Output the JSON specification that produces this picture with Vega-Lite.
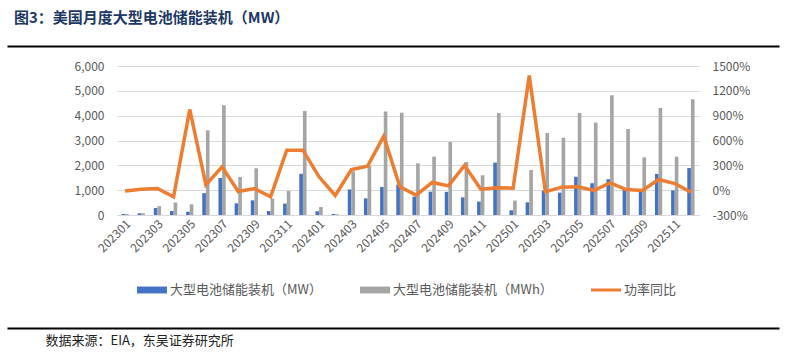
{
  "$schema": "https://vega.github.io/schema/vega-lite/v6.json",
  "width": 582,
  "height": 149,
  "padding": {"left": 117, "top": 66, "right": 97, "bottom": 138},
  "autosize": {"type": "none"},
  "background": "white",
  "config": {"view": {"stroke": null}, "font": "Noto Sans CJK SC"},
  "title": {"text": "图3：美国月度大型电池储能装机（MW）", "anchor": "start", "frame": "group", "fontSize": 15, "fontWeight": "bold", "color": "#203864", "font": "Noto Sans CJK SC", "offset": 20, "dx": -103},
  "datasets": {
    "frame": [{"u": 0.5}],
    "d": [
      {"m": "202301", "s": "大型电池储能装机（MW）", "v": 40}, {"m": "202301", "s": "大型电池储能装机（MWh）", "v": 40}, {"m": "202301", "s": "功率同比", "v": -10},
      {"m": "202302", "s": "大型电池储能装机（MW）", "v": 70}, {"m": "202302", "s": "大型电池储能装机（MWh）", "v": 70}, {"m": "202302", "s": "功率同比", "v": 12},
      {"m": "202303", "s": "大型电池储能装机（MW）", "v": 280}, {"m": "202303", "s": "大型电池储能装机（MWh）", "v": 355}, {"m": "202303", "s": "功率同比", "v": 20},
      {"m": "202304", "s": "大型电池储能装机（MW）", "v": 160}, {"m": "202304", "s": "大型电池储能装机（MWh）", "v": 505}, {"m": "202304", "s": "功率同比", "v": -80},
      {"m": "202305", "s": "大型电池储能装机（MW）", "v": 132}, {"m": "202305", "s": "大型电池储能装机（MWh）", "v": 430}, {"m": "202305", "s": "功率同比", "v": 975},
      {"m": "202306", "s": "大型电池储能装机（MW）", "v": 880}, {"m": "202306", "s": "大型电池储能装机（MWh）", "v": 3410}, {"m": "202306", "s": "功率同比", "v": 65},
      {"m": "202307", "s": "大型电池储能装机（MW）", "v": 1490}, {"m": "202307", "s": "大型电池储能装机（MWh）", "v": 4420}, {"m": "202307", "s": "功率同比", "v": 282},
      {"m": "202308", "s": "大型电池储能装机（MW）", "v": 470}, {"m": "202308", "s": "大型电池储能装机（MWh）", "v": 1530}, {"m": "202308", "s": "功率同比", "v": -16},
      {"m": "202309", "s": "大型电池储能装机（MW）", "v": 590}, {"m": "202309", "s": "大型电池储能装机（MWh）", "v": 1880}, {"m": "202309", "s": "功率同比", "v": 20},
      {"m": "202310", "s": "大型电池储能装机（MW）", "v": 160}, {"m": "202310", "s": "大型电池储能装机（MWh）", "v": 660}, {"m": "202310", "s": "功率同比", "v": -80},
      {"m": "202311", "s": "大型电池储能装机（MW）", "v": 460}, {"m": "202311", "s": "大型电池储能装机（MWh）", "v": 970}, {"m": "202311", "s": "功率同比", "v": 483},
      {"m": "202312", "s": "大型电池储能装机（MW）", "v": 1660}, {"m": "202312", "s": "大型电池储能装机（MWh）", "v": 4190}, {"m": "202312", "s": "功率同比", "v": 483},
      {"m": "202401", "s": "大型电池储能装机（MW）", "v": 150}, {"m": "202401", "s": "大型电池储能装机（MWh）", "v": 320}, {"m": "202401", "s": "功率同比", "v": 161},
      {"m": "202402", "s": "大型电池储能装机（MW）", "v": 40}, {"m": "202402", "s": "大型电池储能装机（MWh）", "v": 30}, {"m": "202402", "s": "功率同比", "v": -64},
      {"m": "202403", "s": "大型电池储能装机（MW）", "v": 1030}, {"m": "202403", "s": "大型电池储能装机（MWh）", "v": 1760}, {"m": "202403", "s": "功率同比", "v": 250},
      {"m": "202404", "s": "大型电池储能装机（MW）", "v": 670}, {"m": "202404", "s": "大型电池储能装机（MWh）", "v": 1970}, {"m": "202404", "s": "功率同比", "v": 290},
      {"m": "202405", "s": "大型电池储能装机（MW）", "v": 1130}, {"m": "202405", "s": "大型电池储能装机（MWh）", "v": 4170}, {"m": "202405", "s": "功率同比", "v": 652},
      {"m": "202406", "s": "大型电池储能装机（MW）", "v": 1220}, {"m": "202406", "s": "大型电池储能装机（MWh）", "v": 4120}, {"m": "202406", "s": "功率同比", "v": 40},
      {"m": "202407", "s": "大型电池储能装机（MW）", "v": 740}, {"m": "202407", "s": "大型电池储能装机（MWh）", "v": 2080}, {"m": "202407", "s": "功率同比", "v": -60},
      {"m": "202408", "s": "大型电池储能装机（MW）", "v": 940}, {"m": "202408", "s": "大型电池储能装机（MWh）", "v": 2350}, {"m": "202408", "s": "功率同比", "v": 93},
      {"m": "202409", "s": "大型电池储能装机（MW）", "v": 930}, {"m": "202409", "s": "大型电池储能装机（MWh）", "v": 2940}, {"m": "202409", "s": "功率同比", "v": 52},
      {"m": "202410", "s": "大型电池储能装机（MW）", "v": 710}, {"m": "202410", "s": "大型电池储能装机（MWh）", "v": 2130}, {"m": "202410", "s": "功率同比", "v": 298},
      {"m": "202411", "s": "大型电池储能装机（MW）", "v": 540}, {"m": "202411", "s": "大型电池储能装机（MWh）", "v": 1600}, {"m": "202411", "s": "功率同比", "v": 12},
      {"m": "202412", "s": "大型电池储能装机（MW）", "v": 2110}, {"m": "202412", "s": "大型电池储能装机（MWh）", "v": 4110}, {"m": "202412", "s": "功率同比", "v": 28},
      {"m": "202501", "s": "大型电池储能装机（MW）", "v": 190}, {"m": "202501", "s": "大型电池储能装机（MWh）", "v": 580}, {"m": "202501", "s": "功率同比", "v": 24},
      {"m": "202502", "s": "大型电池储能装机（MW）", "v": 510}, {"m": "202502", "s": "大型电池储能装机（MWh）", "v": 1810}, {"m": "202502", "s": "功率同比", "v": 1385},
      {"m": "202503", "s": "大型电池储能装机（MW）", "v": 980}, {"m": "202503", "s": "大型电池储能装机（MWh）", "v": 3300}, {"m": "202503", "s": "功率同比", "v": -20},
      {"m": "202504", "s": "大型电池储能装机（MW）", "v": 900}, {"m": "202504", "s": "大型电池储能装机（MWh）", "v": 3110}, {"m": "202504", "s": "功率同比", "v": 36},
      {"m": "202505", "s": "大型电池储能装机（MW）", "v": 1540}, {"m": "202505", "s": "大型电池储能装机（MWh）", "v": 4110}, {"m": "202505", "s": "功率同比", "v": 40},
      {"m": "202506", "s": "大型电池储能装机（MW）", "v": 1280}, {"m": "202506", "s": "大型电池储能装机（MWh）", "v": 3720}, {"m": "202506", "s": "功率同比", "v": -4},
      {"m": "202507", "s": "大型电池储能装机（MW）", "v": 1440}, {"m": "202507", "s": "大型电池储能装机（MWh）", "v": 4820}, {"m": "202507", "s": "功率同比", "v": 89},
      {"m": "202508", "s": "大型电池储能装机（MW）", "v": 1010}, {"m": "202508", "s": "大型电池储能装机（MWh）", "v": 3460}, {"m": "202508", "s": "功率同比", "v": 8},
      {"m": "202509", "s": "大型电池储能装机（MW）", "v": 980}, {"m": "202509", "s": "大型电池储能装机（MWh）", "v": 2320}, {"m": "202509", "s": "功率同比", "v": -4},
      {"m": "202510", "s": "大型电池储能装机（MW）", "v": 1650}, {"m": "202510", "s": "大型电池储能装机（MWh）", "v": 4310}, {"m": "202510", "s": "功率同比", "v": 129},
      {"m": "202511", "s": "大型电池储能装机（MW）", "v": 990}, {"m": "202511", "s": "大型电池储能装机（MWh）", "v": 2350}, {"m": "202511", "s": "功率同比", "v": 80},
      {"m": "202512", "s": "大型电池储能装机（MW）", "v": 1890}, {"m": "202512", "s": "大型电池储能装机（MWh）", "v": 4660}, {"m": "202512", "s": "功率同比", "v": -24}
    ]
  },
  "layer": [
    {
      "data": {"name": "d"},
      "encoding": {
        "x": {
          "field": "m",
          "type": "nominal",
          "scale": {"paddingInner": 0.55, "paddingOuter": 0.275},
          "axis": {
            "title": null,
            "values": ["202301", "202303", "202305", "202307", "202309", "202311", "202401", "202403", "202405", "202407", "202409", "202411", "202501", "202503", "202505", "202507", "202509", "202511"],
            "labelAngle": -45,
            "labelAlign": "right",
            "labelBaseline": "top",
            "ticks": false,
            "tickSize": 0,
            "labelPadding": 3,
            "domainColor": "#D9D9D9",
            "labelFontSize": 12,
            "labelColor": "#595959",
            "labelFont": "Noto Sans CJK SC"
          }
        }
      },
      "layer": [
        {
          "transform": [{"filter": "datum.s !== '功率同比'"}],
          "mark": {"type": "bar"},
          "encoding": {
            "xOffset": {"field": "s", "type": "nominal", "sort": ["大型电池储能装机（MW）", "大型电池储能装机（MWh）"], "scale": {"paddingInner": 0, "paddingOuter": 0}},
            "y": {
              "field": "v",
              "type": "quantitative",
              "scale": {"domain": [0, 6000], "nice": false},
              "axis": {
                "title": null,
                "values": [0, 1000, 2000, 3000, 4000, 5000, 6000],
                "format": ",.0f",
                "domain": false,
                "ticks": false,
                "tickSize": 0,
                "labelPadding": 13,
                "labelFontSize": 12,
                "labelColor": "#595959",
                "labelFont": "Noto Sans CJK SC",
                "gridColor": "#D9D9D9"
              }
            },
            "color": {
              "field": "s",
              "type": "nominal",
              "scale": {"domain": ["大型电池储能装机（MW）", "大型电池储能装机（MWh）", "功率同比"], "range": ["#4472C4", "#A5A5A5", "#ED7D31"]},
              "legend": {
                "orient": "none",
                "legendX": 20,
                "legendY": 209,
                "direction": "horizontal",
                "title": null,
                "padding": 0,
                "labelFontSize": 13,
                "labelColor": "#595959",
                "labelFont": "Noto Sans CJK SC",
                "labelLimit": 300,
                "labelOffset": 3,
                "columnPadding": 38,
                "symbolSize": 900,
                "symbolStrokeWidth": 0,
                "encode": {
                  "symbols": {
                    "update": {
                      "shape": {"signal": "datum.value === '功率同比' ? 'M-1,-0.1H1V0.1H-1Z' : 'M-1,-0.23H1V0.23H-1Z'"},
                      "fill": {"scale": "color", "field": "value"},
                      "opacity": {"value": 1},
                      "strokeWidth": {"value": 0}
                    }
                  }
                }
              }
            }
          }
        },
        {
          "transform": [{"filter": "datum.s === '功率同比'"}],
          "mark": {"type": "line", "strokeWidth": 3.5},
          "encoding": {
            "y": {
              "field": "v",
              "type": "quantitative",
              "scale": {"domain": [-300, 1500], "nice": false},
              "axis": {
                "orient": "right",
                "title": null,
                "values": [-300, 0, 300, 600, 900, 1200, 1500],
                "labelExpr": "datum.value + '%'",
                "grid": false,
                "domain": false,
                "ticks": false,
                "tickSize": 0,
                "labelPadding": 13,
                "labelFontSize": 12,
                "labelColor": "#595959",
                "labelFont": "Noto Sans CJK SC"
              }
            },
            "color": {"field": "s", "type": "nominal"}
          }
        }
      ],
      "resolve": {"scale": {"y": "independent"}}
    },
    {
      "data": {"name": "frame"},
      "mark": {"type": "point", "opacity": 0, "size": 0},
      "encoding": {
        "x": {
          "field": "u",
          "type": "quantitative",
          "scale": {"domain": [0, 1], "range": [-110, 662], "nice": false, "zero": false},
          "axis": {"orient": "top", "offset": 20, "title": null, "labels": false, "ticks": false, "grid": false, "domain": true, "domainColor": "black", "domainWidth": 2}
        }
      }
    },
    {
      "data": {"name": "frame"},
      "mark": {"type": "point", "opacity": 0, "size": 0},
      "encoding": {
        "x": {
          "field": "u",
          "type": "quantitative",
          "scale": {"domain": [0, 1], "range": [-110, 662], "nice": false, "zero": false},
          "axis": {
            "orient": "bottom", "offset": 113, "labels": false, "ticks": false, "grid": false, "domain": true, "domainColor": "black", "domainWidth": 2,
            "title": "数据来源：EIA，东吴证券研究所",
            "titleX": -72, "titleY": 12, "titleAlign": "left", "titleBaseline": "middle", "titleAnchor": "start",
            "titleFontSize": 13, "titleFontWeight": "normal", "titleColor": "#222222", "titleFont": "Noto Sans CJK SC"
          }
        }
      }
    }
  ],
  "resolve": {"scale": {"x": "independent", "y": "independent"}}
}
